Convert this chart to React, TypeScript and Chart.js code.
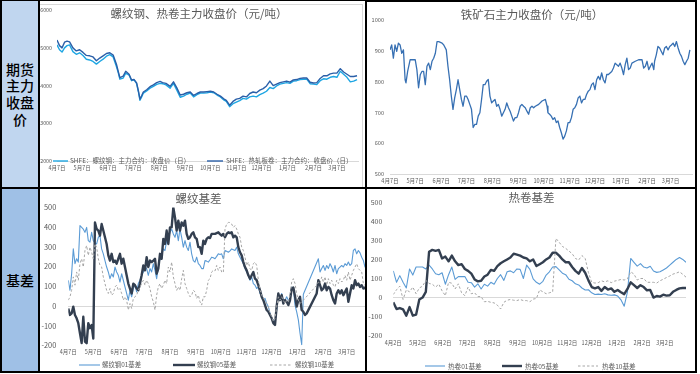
import React, { useEffect, useRef } from 'react';
import { Chart, registerables } from 'chart.js';

Chart.register(...registerables);

const FONT = '"Noto Sans CJK SC", "Noto Sans", sans-serif';

// ---- shared month ticks (days after the first date) ----
const MONTH_DAYS = [0, 30, 61, 91, 122, 153, 183, 214, 244, 275, 306, 334];
const MONTH_LABELS_7 = ['4月7日', '5月7日', '6月7日', '7月7日', '8月7日', '9月7日', '10月7日', '11月7日', '12月7日', '1月7日', '2月7日', '3月7日'];
const MONTH_LABELS_2 = ['4月2日', '5月2日', '6月2日', '7月2日', '8月2日', '9月2日', '10月2日', '11月2日', '12月2日', '1月2日', '2月2日', '3月2日'];

// ---- 螺纹钢、热卷主力收盘价 ----
const PRICE_DAYS = [0, 3, 6, 9, 12, 15, 19, 23, 27, 31, 35, 39, 43, 47, 51, 55, 59, 63, 67, 71, 73, 75, 79, 82, 86, 89, 92, 95, 97, 99, 101, 103, 107, 111, 115, 119, 123, 126, 130, 135, 139, 143, 147, 151, 155, 159, 163, 167, 171, 175, 179, 183, 187, 191, 195, 199, 202, 206, 210, 214, 218, 222, 226, 230, 234, 238, 242, 246, 250, 254, 258, 262, 266, 270, 274, 278, 282, 286, 290, 294, 298, 302, 306, 310, 314, 318, 322, 326, 330, 334, 338, 342, 346, 350, 354, 358];
const REBAR_CLOSE = [
  5080, 4950, 4890, 5000, 5060, 5080, 4900, 4830, 4870, 4800,
  4700, 4680, 4640, 4570, 4640, 4700, 4780, 4820, 4760, 4500,
  4350, 4170, 4200, 4330, 4280, 4130, 4150, 4050, 3850, 3610,
  3700, 3800, 3860, 3930, 3980, 4030, 4060, 4050, 4020, 3930,
  4060, 3880, 3690, 3720, 3770, 3800, 3700, 3760, 3800, 3800,
  3810, 3830, 3810, 3750, 3700, 3620, 3580, 3440, 3520, 3560,
  3600, 3660, 3640, 3700, 3720, 3700, 3760, 3800, 3850, 3950,
  3920, 3990, 4040, 4060, 4080, 4060, 4120, 4130, 4160, 4170,
  4170, 4050, 4040, 4030, 4130, 4180, 4170, 4220, 4240, 4220,
  4380, 4300, 4220, 4100, 4120, 4160,
];
const HRC_CLOSE = [
  5210, 5060, 5000, 5150, 5180, 5160, 5000, 4920, 4950, 4880,
  4800, 4790, 4760, 4660, 4730, 4790, 4850, 4870, 4810, 4560,
  4380, 4210, 4250, 4380, 4300, 4150, 4160, 4070, 3870, 3640,
  3730, 3830, 3890, 3970, 4020, 4080, 4110, 4080, 4060, 3980,
  4100, 3940, 3750, 3770, 3810, 3830, 3740, 3790, 3830, 3830,
  3840, 3850, 3830, 3770, 3720, 3650, 3610, 3480, 3580, 3640,
  3660, 3720, 3700, 3790, 3830, 3810, 3880, 3920, 3990, 4120,
  4000, 4040, 4080, 4100, 4120, 4090, 4150, 4160, 4190, 4200,
  4200, 4090, 4070, 4080, 4190, 4260, 4260, 4310, 4330, 4330,
  4450, 4360, 4300, 4240, 4240, 4260,
];

// ---- 铁矿石主力收盘价 ----
const ORE_DAYS = [
  0, 2, 4, 6, 8, 10, 12, 14, 16, 18,
  19, 21, 24, 28, 30, 32, 34, 36, 38, 40,
  42, 44, 46, 48, 50, 52, 54, 56, 58, 62,
  64, 67, 69, 71, 73, 75, 77, 79, 81, 83,
  85, 87, 89, 91, 93, 95, 97, 99, 101, 103,
  105, 107, 109, 111, 113, 115, 117, 119, 121, 123,
  125, 127, 129, 131, 133, 135, 137, 139, 141, 143,
  145, 147, 149, 151, 153, 155, 157, 159, 161, 163,
  165, 167, 169, 171, 173, 177, 181, 185, 187, 188,
  190, 192, 194, 196, 198, 200, 202, 204, 206, 208,
  210, 212, 214, 216, 218, 220, 222, 224, 226, 228,
  230, 232, 234, 236, 238, 240, 242, 244, 246, 248,
  250, 252, 254, 256, 258, 260, 262, 264, 266, 268,
  270, 272, 274, 276, 278, 280, 282, 284, 286, 288,
  292, 296, 300, 302, 304, 306, 308, 310, 312, 314,
  315, 317, 319, 321, 323, 325, 327, 329, 331, 333,
  335, 337, 339, 341, 343, 345, 347, 349, 351, 353,
  355, 357,
];
const ORE_CLOSE = [
  903, 919, 876, 919, 898, 925, 919, 892, 903, 806,
  796, 833, 871, 871, 871, 839, 780, 822, 833, 833,
  790, 850, 860, 839, 866, 876, 892, 930, 930, 925,
  919, 903, 850, 806, 753, 710, 747, 774, 806, 774,
  742, 720, 753, 753, 742, 726, 710, 651, 661, 661,
  688, 699, 742, 790, 790, 801, 807, 753, 731, 737,
  742, 720, 726, 710, 688, 699, 710, 731, 715, 704,
  688, 672, 683, 683, 699, 720, 726, 720, 715, 704,
  694, 715, 720, 715, 720, 726, 737, 742, 720, 699,
  694, 688, 677, 683, 667, 672, 651, 634, 613, 623,
  640, 667, 667, 683, 710, 715, 726, 747, 753, 731,
  742, 742, 758, 769, 774, 790, 796, 774, 806, 817,
  806, 828, 806, 796, 823, 823, 828, 833, 844, 860,
  855, 850, 860, 844, 823, 855, 876, 839, 844, 860,
  866, 871, 871, 844, 850, 866, 839, 850, 860, 839,
  866, 887, 914, 909, 898, 887, 909, 914, 903, 914,
  919, 925, 914, 930, 909, 892, 882, 866, 855, 866,
  876, 903,
];

// ---- 螺纹基差 (one value every 2 days from 4月7日) ----
const RB_STEP = 2;
const RB_BASIS_01 = [
  131, 80, 164, 290, 215, 240, 223, 408, 399, 390,
  374, 399, 332, 324, 374, 332, 320, 315, 349, 357,
  290, 265, 231, 198, 173, 139, 164, 148, 198, 173,
  156, 122, 164, 131, 97, 64, 30, 80, 47, 89,
  106, 72, 114, 131, 156, 173, 198, 190, 156, 190,
  173, 215, 181, 139, 198, 240, 257, 290, 282, 332,
  341, 374, 391, 366, 349, 383, 332, 391, 349, 299,
  332, 299, 282, 324, 265, 231, 223, 248, 215, 206,
  190, 190,
  231, 228, 223, 235, 248, 245, 240, 252, 265, 262,
  265, 240, 282, 278, 273, 280, 290, 286, 282, 299,
  265, 248, 231, 215, 190, 173, 156, 131, 148, 114,
  106, 89, 97, 64, 55, 30, 39, 13, -3, -37,
  -62, -70, -79, -20, 64, 30, 64, 22, 30, 47,
  30, 22, 97, 89, 5, -29, -70, -138, -196, 60,
  null, null, null, null, null, null, null, null, 240, 173,
  190, 206, 181, 206, 190, 215, 198, 173, 206, 164,
  190, 198, 206, 198, 215, 206, 223, 206, 215, 282,
  290, 265, 282, 270, 248, 231, 198, 198,
];
const RB_BASIS_05 = [
  -12, -45, -37, -3, -45, -62, -87, -138, -188, -54,
  -180, -188, -87, -112, -96, -165, 424, 391, 383, 357,
  416, 383, 349, 315, 257, 231, 265, 223, 231, 215,
  240, 265, 215, 240, 198, 156, 114, 89, 64, 114,
  106, 89, 80, 114, 156, 206, 181, 248, 198, 231,
  223, 231, 240, 164, 190, 265, 240, 341, 315, 383,
  315, 399, 399, 500, 450, 383, 433, 383, 424, 408,
  433, 366, 341, 349, 366, 374, 349, 341, 299, 299,
  265, 332,
  315, 341, 349, 345, 366, 366, 366, 370, 374, 365,
  357, 366, 349, 366, 374, 370, 374, 349, 357, 349,
  299, 273, 257, 223, 198, 181, 156, 139, 156, 173,
  139, 131, 106, 80, 47, 30, 5, -20, -29, -45,
  -62, -87, -96, 0, 64, 30, 55, 13, 30, 22,
  5, 30, 89, 94, 50, -3, 30, 47, -20, -29,
  -45, -37, null, null, null, null, null, 64, 131, 106,
  80, 89, 114, 80, 97, 89, 55, 30, 13, 64,
  80, 64, 80, 55, 72, 89, 22, 64, 106, 89,
  131, 106, 114, 97, 106, 89, 94, 80,
];
const RB_BASIS_10 = [
  30, 47, 80, 148, 106, 173, 131, 215, 240, 198,
  282, 307, 257, 299, 273, 240, 315, 299, 240, 206,
  198, 148, 114, 80, 64, 89, 55, 64, 97, 106,
  80, 89, 64, 30, 47, 30, -20, 13, -12, 39,
  47, 55, 80, 97, 114, 131, 106, 131, 114, 89,
  47, 22, -20, 55, 97, 114, 89, 106, 131, 114,
  198, 173, 223, 148, 114, 80, 97, 80, 139, 181,
  114, 89, 64, 47, 55, 80, 72, 39, 55, 22,
  5, 47,
  47, 80, 131, 139, 173, 181, 178, 206, 181, 198,
  173, 170, 391, 416, 424, 424, 416, 399, 408, 391,
  366, 349, 299, 282, 248, 206, 223, 190, 181, 215,
  223, 206, 131, 80, 55, 39, 30, 13, -3, -37,
  -54, -79, -62, -3, 47, 30, 47, 30, 13, 30,
  22, 55, 122, 139, 114, 64, 30, 13, 22, 30,
  null, null, null, null, null, null, null, 105, 122, 114,
  148, 122, 148, 106, 139, 114, 131, 106, 97, 131,
  114, 139, 122, 131, 156, 131, 173, 131, 156, 181,
  198, 215, 190, 181, 173, 114, 106, 89,
];

// ---- 热卷基差 (one value every 4 days from 4月2日) ----
const HC_STEP = 4;
const HC_BASIS_01 = [
  140, 80, 115, 80, 50, 150, 118, 160, 160, 160,
  150, 170, 150, 125, 120, 130, 70, 120, 160, 95,
  110, 110, 110, 80, 78, 55, 72, 45, 70, 60,
  80, 70, 100, 120, 90, 135, 140, 130, 150, 148,
  100, 170, 148, 98, 80, 70, 85,
  118, 135, 160, 162, 145, 128, 120, 96, 88, 72,
  66, 50, 40, 41, 25, 16, 18, 16, 20, 14,
  12, 14, 8, -12, -45, 30, 205, 185, 165, 178,
  160, 155, 164, 139, 132, 135, 145, 155, 170, 185,
  200, 210, 200, 185,
];
const HC_BASIS_05 = [
  -25, -60, -55, -62, -95, -50, -95, -90, -10, 0,
  30, 240, 250, 245, 250, 205, 215, 190, 220, 190,
  170, 175, 150, 140, 125, 95, 85, 88, 110, 120,
  145, 140, 165, 180, 190, 200, 210, 230, 225, 220,
  210, 205, 190, 200, 165, 175, 185,
  200, 210, 235, 235, 220, 200, 185, 185, 160, 140,
  125, 155, 130, 90, 55, 48, 55, 35, 55, 42,
  48, 30, 40, 28, 18, 45, 80, 65, 50, 65,
  55, 38, 40, 0, 8, 5, 15, 10, 12, 30,
  40, 48, 50, 50,
];
const HC_BASIS_10 = [
  16, 41, 60, -10, 40, 30, 55, 20, 50, 60,
  90, 74, 70, 55, 70, 35, 10, 80, 75, 45,
  72, 25, 10, 55, 20, 25, 5, 5, -22, -20,
  -25, -28, -40, -60, -25, -14, -10, -14, -16, -10,
  -16, -16, -22, -8, -5, 40, 30,
  20, 25, 30, 310, 290, 268, 258, 244, 230, 205,
  197, 220, 205, 131, 80, 76, 78, 88, 82, 88,
  78, 86, 90, 95, 92, 98, 135, 123, 92, 100,
  100, 80, 80, 80, 76, 88, 96, 105, 113, 123,
  128, 135, 122, 107,
];

const C_REBAR = '#1ea6e3';
const C_HRC = '#2a5fa8';
const C_ORE = '#3770b3';
const C_01 = '#5b9bd5';
const C_05 = '#333f50';
const C_10 = '#a6a6a6';

const stepDays = (n: number, step: number) => Array.from({ length: n }, (_, i) => i * step);
const pts = (days: number[], vals: (number | null)[]) => vals.map((v, i) => ({ x: days[i], y: v }));

interface LegendItem { text: string; color: string; width: number; dash?: number[]; x1: number; x2: number; tx: number }
interface Spec {
  canvas: { left: number; top: number; width: number; height: number };
  area: { left: number; top: number; right: number; bottom: number };
  xMax: number;
  y: { min: number; max: number; step: number; font: number; pad: number };
  xFont: number;
  xPad: number;
  labels: string[];
  xBorder: boolean;
  zeroLine: boolean;
  title: { text: string; x: number; y: number };
  legend: { y: number; font: number; items: LegendItem[] };
  datasets: any[];
}

function buildConfig(s: Spec): any {
  const overlay = {
    id: 'overlay',
    afterDraw(chart: any) {
      const ctx = chart.ctx as CanvasRenderingContext2D;
      ctx.save();
      ctx.fillStyle = '#595959';
      ctx.font = `11.5px ${FONT}`;
      ctx.textAlign = 'center';
      ctx.textBaseline = 'middle';
      ctx.fillText(s.title.text, s.title.x, s.title.y);
      ctx.textAlign = 'left';
      ctx.font = `${s.legend.font}px ${FONT}`;
      for (const it of s.legend.items) {
        ctx.beginPath();
        ctx.strokeStyle = it.color;
        ctx.lineWidth = it.width;
        ctx.setLineDash(it.dash || []);
        ctx.moveTo(it.x1, s.legend.y);
        ctx.lineTo(it.x2, s.legend.y);
        ctx.stroke();
        ctx.setLineDash([]);
        ctx.fillStyle = '#595959';
        ctx.fillText(it.text, it.tx, s.legend.y);
      }
      ctx.restore();
    },
  };
  return {
    type: 'line',
    data: { datasets: s.datasets },
    options: {
      responsive: false,
      animation: false,
      events: [],
      layout: { padding: { left: 0, top: s.area.top, right: s.canvas.width - s.area.right, bottom: 0 } },
      plugins: { legend: { display: false }, title: { display: false }, tooltip: { enabled: false } },
      elements: { point: { radius: 0 }, line: { tension: 0, borderJoinStyle: 'round' } },
      scales: {
        x: {
          type: 'linear',
          min: 0,
          max: s.xMax,
          grid: { display: false, drawTicks: false },
          border: { display: s.xBorder, color: '#d9d9d9', width: 1 },
          ticks: {
            autoSkip: false,
            maxRotation: 0,
            padding: s.xPad,
            color: '#595959',
            font: { family: FONT, size: s.xFont },
            callback: (_v: any, i: number) => s.labels[i],
          },
          afterBuildTicks: (sc: any) => {
            sc.ticks = MONTH_DAYS.map((v) => ({ value: v }));
          },
          afterFit: (sc: any) => {
            sc.height = s.canvas.height - s.area.bottom;
          },
        },
        y: {
          type: 'linear',
          min: s.y.min,
          max: s.y.max,
          grid: {
            display: s.zeroLine,
            drawTicks: false,
            color: (c: any) => (c.tick && c.tick.value === 0 ? '#d9d9d9' : 'rgba(0,0,0,0)'),
          },
          border: { display: false },
          ticks: {
            stepSize: s.y.step,
            padding: s.y.pad,
            color: '#595959',
            font: { family: FONT, size: s.y.font },
            callback: (v: any) => String(v),
          },
          afterFit: (sc: any) => {
            sc.width = s.area.left;
          },
        },
      },
    },
    plugins: [overlay],
  };
}

function ChartBox({ spec }: { spec: Spec }) {
  const ref = useRef<HTMLCanvasElement>(null);
  useEffect(() => {
    const chart = new Chart(ref.current as HTMLCanvasElement, buildConfig(spec));
    return () => chart.destroy();
  }, []);
  const c = spec.canvas;
  return (
    <canvas
      ref={ref}
      width={c.width}
      height={c.height}
      style={{ position: 'absolute', left: c.left, top: c.top, width: c.width, height: c.height }}
    />
  );
}

const rbDays = stepDays(RB_BASIS_01.length, RB_STEP);
const hcDays = stepDays(HC_BASIS_01.length, HC_STEP);

const basisSets = (days: number[], a: (number | null)[], b: (number | null)[], c: (number | null)[]) => [
  { data: pts(days, a), borderColor: C_01, borderWidth: 1.1, spanGaps: true, order: 3 },
  { data: pts(days, b), borderColor: C_05, borderWidth: 2.4, spanGaps: true, order: 2 },
  { data: pts(days, c), borderColor: C_10, borderWidth: 1, borderDash: [2.5, 2], spanGaps: true, order: 1 },
];

const SPEC_PRICE: Spec = {
  canvas: { left: 40, top: 2, width: 322, height: 184 },
  area: { left: 17, top: 4, right: 318.7, bottom: 159 },
  xMax: 360,
  y: { min: 2000, max: 6000, step: 1000, font: 5.3, pad: 5 },
  xFont: 5.5,
  xPad: 3.5,
  labels: MONTH_LABELS_7,
  xBorder: true,
  zeroLine: false,
  title: { text: '螺纹钢、热卷主力收盘价（元/吨）', x: 159, y: 12 },
  legend: {
    y: 159,
    font: 6.5,
    items: [
      { text: 'SHFE：螺纹钢：主力合约：收盘价（日）', color: C_REBAR, width: 1.4, x1: 13, x2: 28, tx: 30 },
      { text: 'SHFE：热轧板卷：主力合约：收盘价（日）', color: C_HRC, width: 1.4, x1: 167, x2: 183, tx: 186 },
    ],
  },
  datasets: [
    { data: pts(PRICE_DAYS, REBAR_CLOSE), borderColor: C_REBAR, borderWidth: 1.4, order: 2 },
    { data: pts(PRICE_DAYS, HRC_CLOSE), borderColor: C_HRC, borderWidth: 1.4, order: 1 },
  ],
};

const SPEC_ORE: Spec = {
  canvas: { left: 367, top: 3, width: 330, height: 184 },
  area: { left: 23, top: 17, right: 325.4, bottom: 171 },
  xMax: 360,
  y: { min: 500, max: 1000, step: 100, font: 5.6, pad: 6 },
  xFont: 5.6,
  xPad: 4,
  labels: MONTH_LABELS_7,
  xBorder: true,
  zeroLine: false,
  title: { text: '铁矿石主力收盘价（元/吨）', x: 165, y: 12 },
  legend: { y: 0, font: 6.5, items: [] },
  datasets: [{ data: pts(ORE_DAYS, ORE_CLOSE), borderColor: C_ORE, borderWidth: 1.3 }],
};

const SPEC_RB: Spec = {
  canvas: { left: 40, top: 189, width: 327, height: 182 },
  area: { left: 28.3, top: 18.5, right: 326.7, bottom: 156.5 },
  xMax: 358,
  y: { min: -200, max: 500, step: 100, font: 7.4, pad: 12 },
  xFont: 5.5,
  xPad: 3,
  labels: MONTH_LABELS_7,
  xBorder: false,
  zeroLine: true,
  title: { text: '螺纹基差', x: 158.5, y: 10 },
  legend: {
    y: 176,
    font: 6.4,
    items: [
      { text: '螺纹钢01基差', color: C_01, width: 1.1, x1: 39, x2: 60, tx: 62 },
      { text: '螺纹钢05基差', color: C_05, width: 2.4, x1: 133, x2: 155, tx: 157 },
      { text: '螺纹钢10基差', color: C_10, width: 1, dash: [2.5, 2], x1: 230, x2: 252, tx: 255 },
    ],
  },
  datasets: basisSets(rbDays, RB_BASIS_01, RB_BASIS_05, RB_BASIS_10),
};

const SPEC_HC: Spec = {
  canvas: { left: 368, top: 187, width: 329, height: 184 },
  area: { left: 25.3, top: 6.3, right: 318, bottom: 148.7 },
  xMax: 360,
  y: { min: -200, max: 500, step: 100, font: 7, pad: 11 },
  xFont: 5.5,
  xPad: 3.5,
  labels: MONTH_LABELS_2,
  xBorder: false,
  zeroLine: true,
  title: { text: '热卷基差', x: 163.5, y: 11 },
  legend: {
    y: 179,
    font: 6.6,
    items: [
      { text: '热卷01基差', color: C_01, width: 1.1, x1: 57, x2: 77, tx: 80 },
      { text: '热卷05基差', color: C_05, width: 2.4, x1: 134, x2: 154, tx: 157 },
      { text: '热卷10基差', color: C_10, width: 1, dash: [2.5, 2], x1: 210, x2: 230, tx: 234 },
    ],
  },
  datasets: basisSets(hcDays, HC_BASIS_01, HC_BASIS_05, HC_BASIS_10),
};

const line = (left: number, top: number, width: number, height: number, color = '#000'): React.CSSProperties => ({
  position: 'absolute',
  left,
  top,
  width,
  height,
  background: color,
});

const labelCell = (top: number, height: number, bg: string): React.CSSProperties => ({
  position: 'absolute',
  left: 2,
  top,
  width: 36,
  height,
  background: bg,
  display: 'flex',
  alignItems: 'center',
  justifyContent: 'center',
  textAlign: 'center',
  fontFamily: FONT,
  fontSize: 14,
  fontWeight: 500,
  lineHeight: '16.7px',
  color: '#000',
});

export default function App() {
  return (
    <div style={{ position: 'absolute', left: 0, top: 0, width: 700, height: 374, background: '#fff', overflow: 'hidden' }}>
      <div style={labelCell(1, 186, '#c0d6ef')}>
        <div>期货<br />主力<br />收盘<br />价</div>
      </div>
      <div style={labelCell(189, 182, '#9fc0e6')}>
        <div>基差</div>
      </div>

      <ChartBox spec={SPEC_PRICE} />
      <ChartBox spec={SPEC_ORE} />
      <ChartBox spec={SPEC_RB} />
      <ChartBox spec={SPEC_HC} />

      {/* chart frame of the first chart */}
      <div style={line(40, 4, 322, 1, '#d9d9d9')} />
      <div style={line(362, 4, 1, 183, '#d9d9d9')} />

      {/* table borders */}
      <div style={line(0, 0, 697, 1)} />
      <div style={line(365, 1, 332, 1)} />
      <div style={line(0, 187, 697, 2)} />
      <div style={line(0, 371, 697, 2)} />
      <div style={line(0, 0, 2, 373)} />
      <div style={line(38, 0, 2, 373)} />
      <div style={line(365, 0, 2, 373)} />
      <div style={line(695, 0, 2, 373)} />
    </div>
  );
}
